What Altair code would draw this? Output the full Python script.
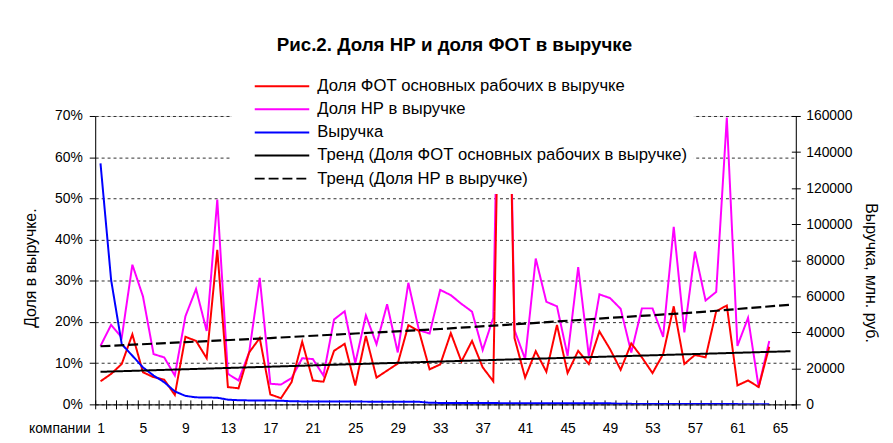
import altair as alt
import pandas as pd

FONT = "Liberation Sans"

# ---------------- data ----------------
companies = list(range(1, 65))

# Доля ФОТ основных рабочих в выручке, %
fot_share = [5.6, 7.4, 9.8, 17.0, 7.8, 6.6, 6.0, 2.3, 16.4, 15.4,
             11.2, 37.5, 4.2, 3.9, 12.6, 16.1, 2.4, 1.5, 5.4, 15.2,
             5.8, 5.5, 13.0, 14.7, 4.6, 16.6, 6.5, 8.2, 9.9, 19.2,
             17.8, 8.5, 9.7, 17.3, 10.4, 15.4, 9.0, 5.6, 150.0, 16.1,
             6.5, 12.9, 7.9, 19.3, 7.6, 13.0, 9.8, 17.7, 13.4, 8.4,
             14.8, 11.4, 7.6, 12.2, 23.8, 9.8, 12.0, 11.4, 22.6, 24.0,
             4.6, 5.8, 4.2, 14.0]

# Доля НР в выручке, %
nr_share = [14.2, 19.3, 16.2, 33.9, 26.2, 12.2, 11.4, 7.0, 21.4, 28.0,
            17.8, 49.7, 7.4, 5.8, 12.6, 30.7, 5.0, 4.8, 6.4, 11.2,
            11.0, 7.0, 20.6, 22.6, 10.0, 21.6, 14.6, 24.3, 12.6, 29.5,
            18.0, 17.2, 27.8, 26.5, 24.4, 22.5, 13.2, 21.0, 160.0, 18.0,
            11.0, 35.4, 24.9, 23.8, 11.8, 33.3, 11.8, 26.7, 25.8, 23.2,
            12.6, 23.3, 23.3, 16.4, 43.1, 17.5, 37.1, 25.2, 27.3, 69.6,
            14.2, 21.0, 4.2, 15.4]

# Выручка, млн. руб.
revenue = [133700, 69000, 33400, 27000, 20500, 16000, 12300, 7200, 4700, 3900,
           3800, 3700, 2600, 2300, 2200, 2150, 2100, 2050, 1700, 1650,
           1620, 1600, 1580, 1560, 1540, 1520, 1500, 1480, 1460, 1440,
           1420, 900, 800, 780, 760, 740, 720, 700, 690, 680,
           670, 660, 650, 640, 630, 620, 610, 600, 590, 300,
           280, 260, 240, 220, 200, 190, 180, 170, 160, 150,
           140, 130, 120, 110]

# trend lines, %
trend_fot_x = [1, 33, 66]
trend_fot = [7.9, 10.4, 12.9]
trend_nr_x = [1, 9, 17, 25, 33, 41, 49, 57, 66]
trend_nr = [14.1, 15.1, 16.1, 17.2, 18.3, 19.6, 21.0, 22.3, 24.2]

x_label_values = list(range(1, 66, 4))
x_tick_values = [i + 0.5 for i in range(0, 67)]
share_ticks = [i / 10 for i in range(0, 8)]
revenue_ticks = list(range(0, 160001, 20000))

S_RED = "Доля ФОТ основных рабочих в выручке"
S_MAG = "Доля НР в выручке"
S_BLUE = "Выручка"
S_TR = "Тренд (Доля ФОТ основных рабочих в выручке)"
S_TM = "Тренд (Доля НР в выручке)"
series_names = [S_RED, S_MAG, S_BLUE, S_TR, S_TM]
series_colors = ["#FF0000", "#FF00FF", "#0000FF", "#000000", "#000000"]
series_dashes = [[1, 0], [1, 0], [1, 0], [1, 0], [10, 4]]

lines_df = pd.DataFrame({
    "company": companies * 3,
    "series": [S_RED] * 64 + [S_MAG] * 64 + [S_BLUE] * 64,
    "value": [v / 100 for v in fot_share] + [v / 100 for v in nr_share] + revenue,
})
trend_df = pd.DataFrame({
    "company": trend_fot_x + trend_nr_x,
    "series": [S_TR] * len(trend_fot_x) + [S_TM] * len(trend_nr_x),
    "value": [v / 100 for v in trend_fot + trend_nr],
})

# ---------------- scales / guides ----------------
x_scale = alt.Scale(domain=[0.5, 66.5], nice=False, zero=False)
share_scale = alt.Scale(domain=[0, 0.7], nice=False)
rev_scale = alt.Scale(domain=[0, 160000], nice=False)

legend = alt.Legend(
    title=None, orient="none", legendX=138, legendY=-44.4,
    direction="vertical", fillColor="white", padding=6,
    symbolType="M-5,0H5", symbolSize=121, symbolStrokeWidth=2,
    symbolOffset=36.1, labelOffset=27.1, rowPadding=5.3,
    labelFont=FONT, labelFontSize=16.8, labelColor="black", labelLimit=600,
)
color_enc = alt.Color("series:N", scale=alt.Scale(domain=series_names, range=series_colors), legend=legend)
dash_enc = alt.StrokeDash("series:N", scale=alt.Scale(domain=series_names, range=series_dashes), legend=legend)

x_label_axis = alt.Axis(
    orient="bottom", values=x_label_values, ticks=False, tickSize=0, grid=False,
    domain=True, domainColor="black", domainWidth=1,
    labelPadding=17, labelFont=FONT, labelFontSize=14, labelColor="black",
    title="компании", titleFont=FONT, titleFontSize=14, titleFontWeight="normal",
    titleColor="black", titleX=-5, titleY=17, titleAlign="right", titleBaseline="top",
)
x_tick_axis = alt.Axis(
    orient="bottom", values=x_tick_values, offset=-4.5, domain=False, labels=False,
    grid=False, ticks=True, tickSize=9, tickColor="black", title=None,
)
left_axis = alt.Axis(
    orient="left", values=share_ticks, format=".0%",
    grid=True, gridColor="#303030", gridDash=[3, 3], gridWidth=1,
    domain=True, domainColor="black", ticks=True, tickSize=6, tickColor="black",
    labelPadding=7, labelFont=FONT, labelFontSize=14, labelColor="black",
    title="Доля в выручке.", titleFont=FONT, titleFontSize=16, titleFontWeight="normal",
    titleColor="black", titleAngle=270, titleX=-65, titleY=153,
    titleAlign="center", titleBaseline="middle",
)
right_axis = alt.Axis(
    orient="right", values=revenue_ticks, format="d", grid=False,
    domain=True, domainColor="black", ticks=False, tickSize=0,
    labelPadding=10, labelFont=FONT, labelFontSize=14, labelColor="black",
    title="Выручка, млн. руб.", titleFont=FONT, titleFontSize=16, titleFontWeight="normal",
    titleColor="black", titleAngle=90, titleX=75, titleY=158,
    titleAlign="center", titleBaseline="middle",
)
right_tick_axis = alt.Axis(
    orient="right", values=revenue_ticks, offset=-4.5, domain=False, labels=False,
    grid=False, ticks=True, tickSize=9, tickColor="black", title=None,
)

# ---------------- layers ----------------
base = alt.Chart(lines_df)

nr_layer = base.transform_filter(alt.datum.series == S_MAG).mark_line(clip=True, strokeWidth=2).encode(
    x=alt.X("company:Q", scale=x_scale, axis=x_label_axis),
    y=alt.Y("value:Q", scale=share_scale, axis=left_axis),
    color=color_enc, strokeDash=dash_enc,
)
fot_layer = base.transform_filter(alt.datum.series == S_RED).mark_line(clip=True, strokeWidth=2).encode(
    x=alt.X("company:Q", scale=x_scale, axis=None),
    y=alt.Y("value:Q", scale=share_scale, axis=None),
    color=color_enc, strokeDash=dash_enc,
)
rev_layer = base.transform_filter(alt.datum.series == S_BLUE).mark_line(clip=True, strokeWidth=2).encode(
    x=alt.X("company:Q", scale=x_scale, axis=None),
    y=alt.Y("value:Q", scale=rev_scale, axis=right_axis),
    color=color_enc, strokeDash=dash_enc,
)
tick_layer = base.transform_filter(alt.datum.series == S_BLUE).mark_line(clip=True, strokeOpacity=0).encode(
    x=alt.X("company:Q", scale=x_scale, axis=x_tick_axis),
    y=alt.Y("value:Q", scale=rev_scale, axis=right_tick_axis),
)
trend_layer_fot = alt.Chart(trend_df).transform_filter(alt.datum.series == S_TR).mark_line(clip=True, strokeWidth=2).encode(
    x=alt.X("company:Q", scale=x_scale, axis=None),
    y=alt.Y("value:Q", scale=share_scale, axis=None),
    color=color_enc, strokeDash=dash_enc,
)
trend_layer_nr = alt.Chart(trend_df).transform_filter(alt.datum.series == S_TM).mark_line(clip=True, strokeWidth=2.2).encode(
    x=alt.X("company:Q", scale=x_scale, axis=None),
    y=alt.Y("value:Q", scale=share_scale, axis=None),
    color=color_enc, strokeDash=dash_enc,
)

chart = alt.layer(
    nr_layer, fot_layer, rev_layer, tick_layer, trend_layer_fot, trend_layer_nr
).resolve_scale(
    y="independent"
).resolve_axis(
    x="independent", y="independent"
).properties(
    width=707, height=291,
    padding={"left": 88, "top": 107, "right": 90, "bottom": 37},
    autosize=alt.AutoSizeParams(type="none"),
    title=alt.TitleParams(
        "Рис.2. Доля НР и доля ФОТ в выручке", font=FONT, fontSize=18.9, fontWeight="bold",
        color="black", anchor="middle", frame="group", offset=2, dx=9, baseline="alphabetic",
    ),
).configure_view(stroke=None).configure(background="white")

chart.save("out.html", embed_options={"renderer": "svg", "actions": False})
